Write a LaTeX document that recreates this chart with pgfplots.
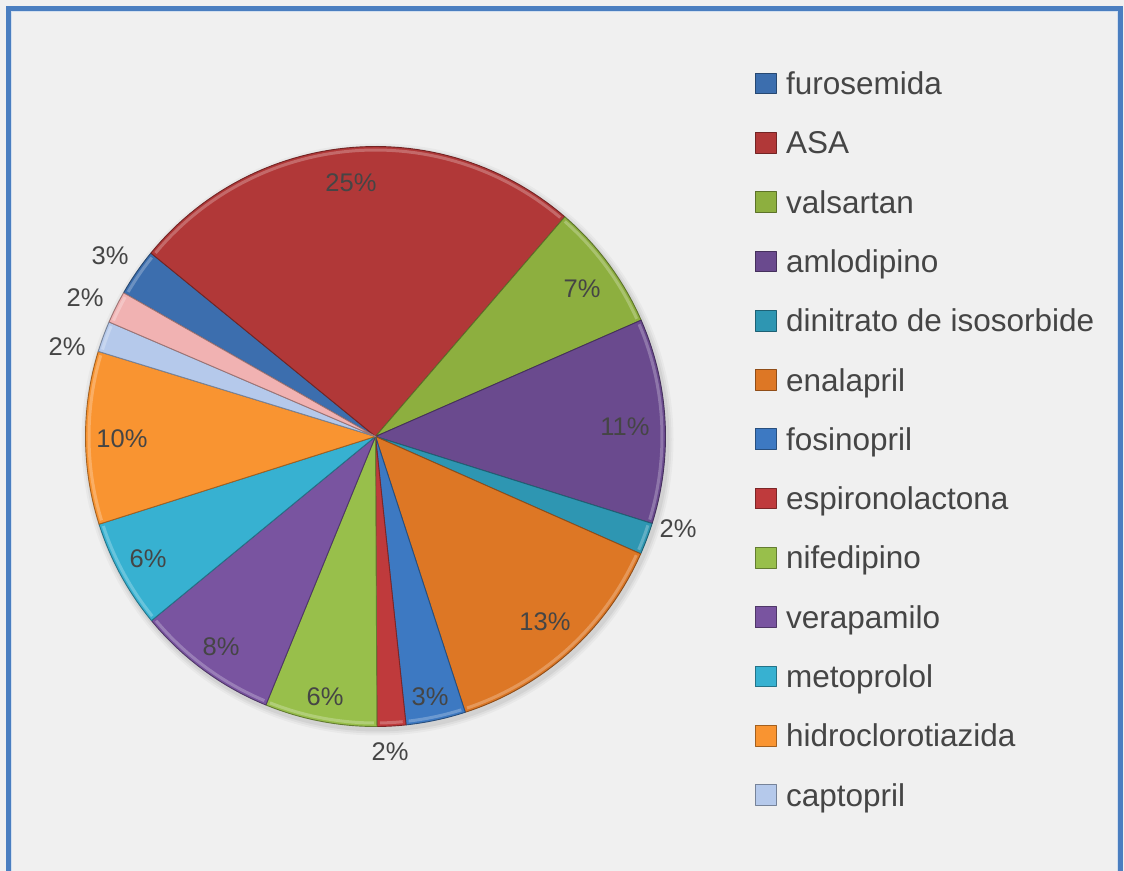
\documentclass[border=0pt]{standalone}
\usepackage{fontspec}
\setmainfont{Liberation Sans}
\usepackage{pgfplots}
\usepackage{pgfplotstable}
\pgfplotsset{compat=1.18}

\definecolor{bgcol}{HTML}{F0F0F0}
\definecolor{framecol}{HTML}{4A7EC0}
\definecolor{txtcol}{HTML}{454545}
\definecolor{c0}{HTML}{3C6EAE}
\definecolor{c1}{HTML}{B13838}
\definecolor{c2}{HTML}{8DAF3F}
\definecolor{c3}{HTML}{6A4A8E}
\definecolor{c4}{HTML}{2E96B2}
\definecolor{c5}{HTML}{DD7725}
\definecolor{c6}{HTML}{3D79C2}
\definecolor{c7}{HTML}{BF3A3C}
\definecolor{c8}{HTML}{98BF4B}
\definecolor{c9}{HTML}{7954A0}
\definecolor{c10}{HTML}{37B1D1}
\definecolor{c11}{HTML}{F99431}
\definecolor{c12}{HTML}{B5C9EB}
\definecolor{c13}{HTML}{F1B2B2}

% share of each drug (percent), clockwise from furosemida
% lab = printed label, lx/ly = label centre in pixels (y down)
\pgfplotstableread[col sep=comma]{
name,pct,lab,lx,ly
furosemida,2.65,3,110,256
ASA,25.42,25,351,183
valsartan,7.11,7,582,289
amlodipino,11.42,11,625,427
dinitrato de isosorbide,1.78,2,678,529
enalapril,13.36,13,545,622
fosinopril,3.33,3,430,697
espironolactona,1.60,2,390,752
nifedipino,6.25,6,325,697
verapamilo,7.88,8,221,647
metoprolol,6.06,6,148,559
hidroclorotiazida,9.63,10,122,439
captopril,1.72,2,67,347
otro,1.79,2,85,298
}\piedata

% slice angles, start at 150.3 deg and run clockwise
\gdef\pietotal{0}
\foreach \i in {0,...,13}{%
  \pgfplotstablegetelem{\i}{pct}\of\piedata
  \pgfmathsetmacro{\tmp}{\pietotal+\pgfplotsretval}%
  \xdef\pietotal{\tmp}%
}
\xdef\runangle{150.3}
\foreach \i in {0,...,13}{%
  \pgfplotstablegetelem{\i}{pct}\of\piedata
  \pgfmathsetmacro{\tmp}{\runangle-360*\pgfplotsretval/\pietotal}%
  \expandafter\xdef\csname sa\i\endcsname{\runangle}%
  \expandafter\xdef\csname sb\i\endcsname{\tmp}%
  \xdef\runangle{\tmp}%
}

\pgfplotsset{
  slice/.style={fill=#1, draw=#1!65!black, line width=0.9bp, line join=round,
    samples=60, variable=\t},
  rim/.style={forget plot, draw=#1!55!white, opacity=0.55, line width=3bp,
    samples=60, variable=\t},
}

\begin{document}
\begin{tikzpicture}
\useasboundingbox (0,0) rectangle (1124bp,871bp);
\fill[bgcol] (0,0) rectangle (1124bp,871bp);
% soft shadow under the pie
\foreach \r/\o in {296/0.03,294/0.04,292/0.05}
  \fill[black, opacity=\o] (377.5bp,431.5bp) circle (\r bp);
\begin{axis}[
  at={(0,0)}, anchor=south west,
  scale only axis, width=1124bp, height=871bp,
  xmin=0, xmax=1124, ymin=0, ymax=871, y dir=reverse,
  hide axis, clip=false,
  legend cell align=left,
  legend image code/.code={\filldraw[#1] (0bp,-7.8bp) rectangle (20.7bp,12.9bp);},
  legend style={at={(axis cs:755,69.5)}, anchor=north west, draw=none, fill=none,
    inner sep=0pt, outer sep=0pt, row sep=26.3bp,
    font=\fontsize{31.5bp}{38bp}\selectfont,
    nodes={inner xsep=9.5bp, inner ysep=0pt, text height=25bp, text depth=8bp, text=txtcol}},
]
\pgfplotsinvokeforeach{0,...,12}{
  \pgfplotstablegetelem{#1}{name}\of\piedata
  \let\slicename\pgfplotsretval
  \addplot[slice=c#1,
    domain/.expanded={\csname sb#1\endcsname:\csname sa#1\endcsname}]
    ({375.5+290*cos(\t)},{436.5-290*sin(\t)}) -- (axis cs:375.5,436.5) -- cycle;
  \addlegendentryexpanded{\slicename}
}
\addplot[forget plot, slice=c13,
  domain/.expanded={\csname sb13\endcsname:\csname sa13\endcsname}]
  ({375.5+290*cos(\t)},{436.5-290*sin(\t)}) -- (axis cs:375.5,436.5) -- cycle;
% light bevel along the rim of each slice
\pgfplotsinvokeforeach{0,...,13}{
  \addplot[rim=c#1,
    domain/.expanded={\csname sb#1\endcsname+0.6:\csname sa#1\endcsname-0.6}]
    ({375.5+286.5*cos(\t)},{436.5-286.5*sin(\t)});
}
% data labels
\addplot[forget plot, draw=none, mark=none,
  point meta=explicit symbolic,
  nodes near coords={\pgfplotspointmeta\%},
  every node near coord/.append style={anchor=center, inner sep=0pt,
    text=txtcol, font=\fontsize{25.5bp}{30bp}\selectfont}]
  table[x=lx, y=ly, meta=lab] {\piedata};
\end{axis}
\draw[framecol, line width=5bp] (8.5bp,-30bp) rectangle (1120.5bp,862.5bp);
\draw[white!75!framecol, line width=1bp] (11.8bp,-30bp) rectangle (1117.2bp,859.2bp);
\end{tikzpicture}
\end{document}
